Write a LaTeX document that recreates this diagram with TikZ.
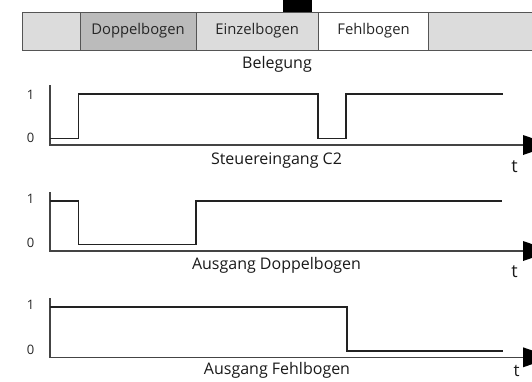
\documentclass[tikz,border=0pt]{standalone}
\usepackage{fontspec}
\setmainfont{Open Sans}
\definecolor{lgray}{HTML}{DCDCDC}
\definecolor{dgray}{HTML}{BBBBBB}
\definecolor{bord}{HTML}{555555}
\definecolor{axc}{HTML}{444444}
\definecolor{sig}{HTML}{222222}
\begin{document}
\begin{tikzpicture}[x=1pt,y=-1pt,
  seg/.style={draw=bord,line width=1pt},
  segtext/.style={font=\fontsize{14.8}{16}\selectfont,text=black!85},
  lab/.style={font=\fontsize{16}{18}\selectfont,text=black!90},
  lvl/.style={font=\fontsize{13}{15}\selectfont,text=black!85},
  tlab/.style={font=\fontsize{18}{20}\selectfont,text=black!90,inner sep=0pt},
  axis/.style={draw=axc,line width=1.6pt},
  signal/.style={draw=sig,line width=1.6pt},
  ahead/.style={fill=black}]
\useasboundingbox (0,0) rectangle (532,381);
\clip (0,0) rectangle (532,381);
% top strip
\fill[black] (283,0) rectangle (311.5,12.5);
\filldraw[seg,fill=lgray] (22.5,12.5) rectangle (80,50.5);
\filldraw[seg,fill=dgray] (80,12.5) rectangle (196,50.5);
\filldraw[seg,fill=lgray] (196,12.5) rectangle (318.5,50.5);
\filldraw[seg,fill=white] (318.5,12.5) rectangle (428.5,50.5);
\filldraw[seg,fill=lgray] (428.5,12.5) rectangle (540,50.5);
\node[segtext] (dop) at (138,30.5) {Doppelbogen};
\node[segtext] (ein) at (257.2,30.5) {Einzelbogen};
\node[segtext] (fehl) at (373.5,30.5) {Fehlbogen};
\node[lab] (beleg) at (277,64) {Belegung};
% graph 1
\draw[axis] (50,85) -- (50,145) -- (524,145);
\fill[ahead] (523,135) -- (552,145) -- (523,155) -- cycle;
\node[lvl] (g1one) at (30.5,95) {1};
\node[lvl] (g1zero) at (30.5,138) {0};
\draw[signal] (50,138.3) -- (78.3,138.3) -- (78.3,94) -- (317.7,94) -- (317.7,138.3) -- (346,138.3) -- (346,94) -- (502.7,94);
\node[lab] (g1lab) at (276.5,160.5) {Steuereingang C2};
\node[tlab] (g1t) at (514.5,167) {t};
% graph 2
\draw[axis] (50,192.3) -- (50,251) -- (524,251);
\fill[ahead] (523,241) -- (552,251) -- (523,261) -- cycle;
\node[lvl] (g2one) at (30.5,199) {1};
\node[lvl] (g2zero) at (30.5,242.7) {0};
\draw[signal] (50,200.7) -- (78.3,200.7) -- (78.3,244.3) -- (195.7,244.3) -- (195.7,200.7) -- (502,200.7);
\node[lab] (g2lab) at (276.5,265) {Ausgang Doppelbogen};
\node[tlab] (g2t) at (514.5,272) {t};
% graph 3
\draw[axis] (50,298.3) -- (50,357.3) -- (524,357.3);
\fill[ahead] (523,347.3) -- (552,357.3) -- (523,367.3) -- cycle;
\node[lvl] (g3one) at (30.5,305) {1};
\node[lvl] (g3zero) at (30.5,350) {0};
\draw[signal] (50,306.7) -- (347,306.7) -- (347,350.7) -- (502.7,350.7);
\node[lab] (g3lab) at (277,370) {Ausgang Fehlbogen};
\node[tlab,font=\fontsize{17}{19}\selectfont] (g3t) at (516.5,371) {t};
\end{tikzpicture}
\end{document}
